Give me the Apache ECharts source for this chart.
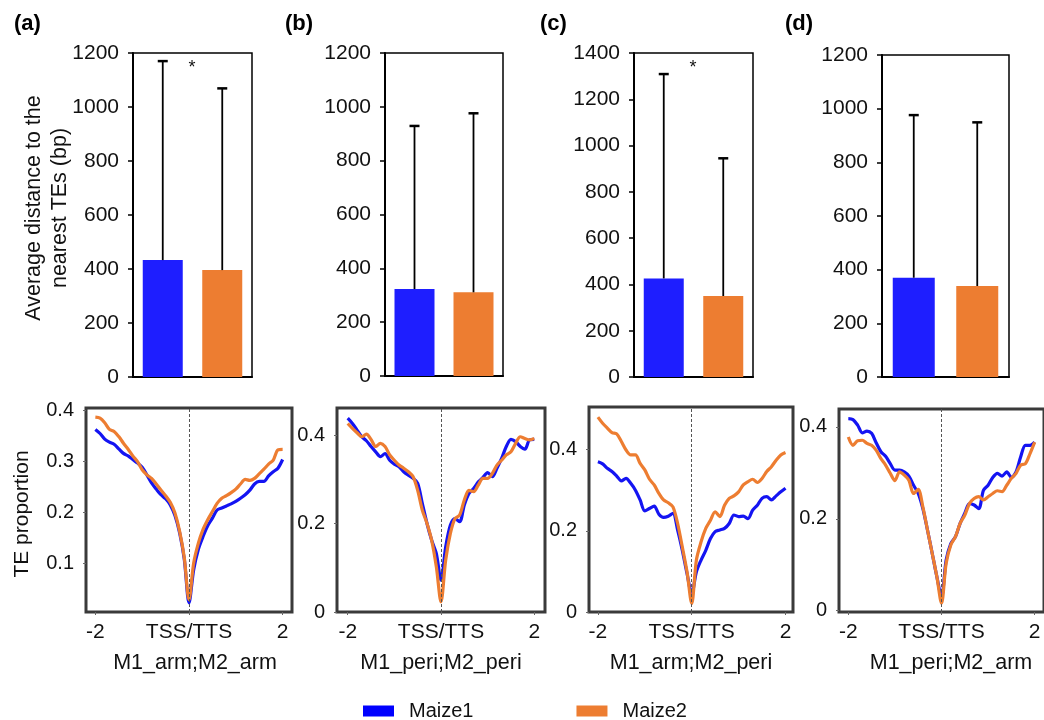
<!DOCTYPE html>
<html>
<head>
<meta charset="utf-8">
<script src="https://cdn.jsdelivr.net/npm/echarts@6/dist/echarts.min.js"></script>
<style>
html,body{margin:0;padding:0;background:#fff;}
#chart{width:1044px;height:720px;}
</style>
</head>
<body>
<div id="chart"></div>
<script>
// ---------- data ----------
const panelLabels = ['(a)', '(b)', '(c)', '(d)'];
const groupNames = ['Maize1', 'Maize2'];
const barCategories = ['Maize1', 'Maize2'];
const meanMaize1 = [433, 323, 426, 370];
const meanMaize2 = [396, 311, 350, 339];
const errTopMaize1 = [1170, 929, 1309, 976];
const errTopMaize2 = [1069, 976, 945, 949];
const barAxisMax = [1200, 1200, 1400, 1200];
const barAxisInterval = [200, 200, 200, 200];
const sigMarks = ['*', '', '*', ''];

const profileX = [-2.0,-1.9,-1.8,-1.7,-1.6,-1.5,-1.4,-1.3,-1.2,-1.1,-1.0,-0.9,-0.8,-0.7,-0.6,-0.5,-0.4,-0.3,-0.2,-0.1,
  0.0,0.1,0.2,0.3,0.4,0.5,0.6,0.7,0.8,0.9,1.0,1.1,1.2,1.3,1.4,1.5,1.6,1.7,1.8,1.9,2.0];
const xTickValues = [-2, 0, 2];
const xTickLabels = ['-2', 'TSS/TTS', '2'];
const profileNames = ['M1_arm;M2_arm', 'M1_peri;M2_peri', 'M1_arm;M2_peri', 'M1_peri;M2_arm'];

const aMaize1 = [.362,.354,.343,.337,.333,.324,.315,.310,.303,.296,.288,.273,.257,.245,.234,.226,.214,.193,.159,.107,
  .022,.087,.127,.152,.173,.188,.204,.208,.212,.216,.221,.227,.234,.243,.255,.260,.260,.271,.279,.286,.303];
const aMaize2 = [.386,.384,.375,.362,.358,.348,.335,.323,.310,.299,.283,.273,.266,.255,.243,.232,.219,.198,.162,.110,
  .028,.100,.139,.166,.185,.201,.217,.227,.232,.238,.245,.255,.264,.262,.266,.275,.284,.294,.302,.322,.323];
const bMaize1 = [.438,.426,.411,.396,.387,.374,.362,.351,.358,.343,.334,.328,.317,.309,.302,.291,.245,.200,.162,.132,
  .072,.147,.196,.211,.204,.242,.268,.279,.294,.304,.315,.306,.325,.347,.374,.390,.385,.374,.368,.389,.390];
const bMaize2 = [.426,.415,.405,.396,.402,.390,.374,.381,.374,.355,.343,.332,.325,.317,.306,.275,.230,.200,.162,.102,
  .023,.117,.177,.211,.219,.253,.275,.272,.287,.302,.302,.313,.332,.343,.355,.362,.381,.396,.392,.389,.392];
const cMaize1 = [.370,.365,.354,.346,.335,.323,.329,.317,.300,.276,.249,.255,.261,.241,.233,.236,.243,.202,.152,.095,
  .045,.099,.128,.152,.181,.198,.202,.206,.218,.239,.235,.236,.230,.251,.263,.280,.284,.276,.286,.296,.305];
const cMaize2 = [.480,.465,.453,.442,.439,.420,.399,.387,.387,.366,.350,.327,.313,.292,.276,.269,.259,.218,.160,.099,
  .021,.128,.173,.206,.226,.247,.235,.263,.280,.286,.296,.313,.321,.327,.319,.329,.346,.358,.374,.387,.393];
const dMaize1 = [.418,.416,.404,.387,.391,.386,.365,.346,.336,.320,.306,.306,.302,.293,.273,.255,.222,.175,.125,.074,
  .030,.110,.146,.161,.190,.212,.233,.230,.222,.262,.273,.290,.299,.293,.302,.290,.302,.335,.360,.360,.367];
const dMaize2 = [.378,.360,.370,.371,.364,.360,.349,.331,.317,.299,.283,.302,.295,.284,.255,.264,.226,.175,.125,.074,
  .016,.103,.143,.161,.190,.208,.233,.244,.248,.241,.248,.255,.261,.259,.273,.288,.299,.317,.320,.342,.367];
const profileMaize1 = [aMaize1, bMaize1, cMaize1, dMaize1];
const profileMaize2 = [aMaize2, bMaize2, cMaize2, dMaize2];

const profileYMin = [0.004, 0, 0, -0.003];
const profileYMax = [0.404, 0.461, 0.505, 0.439];
const profileYTicks = [[0.1, 0.2, 0.3, 0.4], [0, 0.2, 0.4], [0, 0.2, 0.4], [0, 0.2, 0.4]];
const profileXMin = [-2.2, -2.23, -2.19, -2.2];
const profileXMax = [2.2, 2.23, 2.16, 2.2];

// ---------- layout ----------
const barGrids = [
  {left: 133, top: 53, width: 119, height: 324},
  {left: 385, top: 53, width: 118, height: 323},
  {left: 634, top: 53, width: 119, height: 324},
  {left: 882, top: 55, width: 127, height: 322}
];
const barWidths = [40, 40, 40, 42];
const lineGrids = [
  {left: 86, top: 408, width: 206, height: 204},
  {left: 337, top: 408, width: 208, height: 204},
  {left: 589, top: 407, width: 204, height: 205},
  {left: 839, top: 409, width: 207, height: 203}
];
const xNameShift = [12, 0, 0, 19];
const labelPos = [[14, 25], [285, 25], [540, 25], [785, 25]];

const BLUE = '#1E1EFF', ORANGE = '#ED7D31';
const LBLUE = '#1414F2';
const FONT = 'Liberation Sans, Arial, sans-serif';

const grid = [], xAxis = [], yAxis = [], series = [], graphic = [];

for (let i = 0; i < 4; i++) {
  const g = barGrids[i];
  grid.push(Object.assign({show: true, borderColor: '#000', borderWidth: 1.5, containLabel: false}, g));
  xAxis.push({type: 'category', gridIndex: i, data: barCategories,
    axisLine: {show: true, onZero: false, lineStyle: {color: '#000', width: 2}},
    axisTick: {show: false}, axisLabel: {show: false}});
  yAxis.push({type: 'value', gridIndex: i, min: 0, max: barAxisMax[i], interval: barAxisInterval[i],
    axisLine: {show: true, onZero: false, lineStyle: {color: '#000', width: 2}},
    axisTick: {show: true, length: 5, lineStyle: {color: '#000', width: 1.5}},
    splitLine: {show: false},
    axisLabel: {fontFamily: FONT, fontSize: 21, color: '#111', margin: 14, formatter: function (v) { return String(v); }},
    name: i === 0 ? 'Average distance to the\nnearest TEs (bp)' : '',
    nameLocation: 'middle', nameGap: 60, nameMoveOverlap: false,
    nameTextStyle: {fontFamily: FONT, fontSize: 21.5, color: '#111', lineHeight: 26, padding: [0, 0, 0, 14]}
  });
  series.push({type: 'bar', name: groupNames[0], xAxisIndex: i, yAxisIndex: i, barWidth: barWidths[i],
    itemStyle: {color: BLUE}, silent: true,
    data: [meanMaize1[i], null]});
  series.push({type: 'bar', name: groupNames[1], xAxisIndex: i, yAxisIndex: i, barWidth: barWidths[i],
    barGap: '-100%', itemStyle: {color: ORANGE}, silent: true,
    data: [null, meanMaize2[i]]});
  series.push({type: 'custom', xAxisIndex: i, yAxisIndex: i, silent: true, z: 5,
    data: [[0, meanMaize1[i], errTopMaize1[i]], [1, meanMaize2[i], errTopMaize2[i]]],
    renderItem: function (params, api) {
      const p0 = api.coord([api.value(0), api.value(1)]);
      const p1 = api.coord([api.value(0), api.value(2)]);
      return {type: 'group', children: [
        {type: 'line', shape: {x1: p0[0], y1: p0[1], x2: p1[0], y2: p1[1]}, style: {stroke: '#000', lineWidth: 1.8}},
        {type: 'line', shape: {x1: p1[0] - 5, y1: p1[1], x2: p1[0] + 5, y2: p1[1]}, style: {stroke: '#000', lineWidth: 2.5}}
      ]};
    }
  });
  if (sigMarks[i]) {
    graphic.push({type: 'text', left: g.left + g.width / 2 - 4, top: g.top + 6,
      style: {text: sigMarks[i], font: '18px ' + FONT, fill: '#111'}});
  }
  graphic.push({type: 'text', left: labelPos[i][0], top: labelPos[i][1] - 12,
    style: {text: panelLabels[i], font: 'bold 22px ' + FONT, fill: '#000'}});
}

for (let i = 0; i < 4; i++) {
  const gi = 4 + i;
  grid.push(Object.assign({show: true, borderColor: '#3a3a3a', borderWidth: 3}, lineGrids[i]));
  xAxis.push({type: 'value', gridIndex: gi, min: profileXMin[i], max: profileXMax[i],
    axisLine: {show: false, onZero: false}, splitLine: {show: false},
    axisTick: {show: true, customValues: xTickValues, length: 3, lineStyle: {color: '#666'}},
    axisLabel: {customValues: xTickValues, fontFamily: FONT, fontSize: 21, color: '#111', margin: 10,
      formatter: function (v) { const k = xTickValues.indexOf(v); return k >= 0 ? xTickLabels[k] : ''; }},
    name: profileNames[i], nameLocation: 'middle', nameGap: 40,
    nameTextStyle: {fontFamily: FONT, fontSize: 21.5, color: '#111', padding: [0, 0, 0, xNameShift[i]]}
  });
  yAxis.push({type: 'value', gridIndex: gi, min: profileYMin[i], max: profileYMax[i],
    axisLine: {show: false, onZero: false}, splitLine: {show: false},
    axisTick: {show: true, customValues: profileYTicks[i], length: 3, lineStyle: {color: '#666'}},
    axisLabel: {customValues: profileYTicks[i], fontFamily: FONT, fontSize: 20, color: '#111', margin: 12,
      formatter: function (v) { return String(Math.round(v * 10) / 10); }},
    name: i === 0 ? 'TE proportion' : '', nameLocation: 'middle', nameGap: 53,
    nameTextStyle: {fontFamily: FONT, fontSize: 21, color: '#111', padding: [0, 8, 0, 0]}
  });
  series.push({type: 'line', name: groupNames[0], xAxisIndex: gi, yAxisIndex: gi, showSymbol: false,
    smooth: 0.3, silent: true, lineStyle: {color: LBLUE, width: 3.2}, itemStyle: {color: BLUE},
    data: profileX.map((x, k) => [x, profileMaize1[i][k]]),
    markLine: {silent: true, symbol: 'none', label: {show: false},
      lineStyle: {type: [3, 2], color: '#555', width: 1}, data: [{xAxis: 0}]}
  });
  series.push({type: 'line', name: groupNames[1], xAxisIndex: gi, yAxisIndex: gi, showSymbol: false,
    smooth: 0.3, silent: true, lineStyle: {color: ORANGE, width: 3.2}, itemStyle: {color: ORANGE},
    data: profileX.map((x, k) => [x, profileMaize2[i][k]])
  });
}

const chart = echarts.init(document.getElementById('chart'), null, {renderer: 'canvas'});
chart.setOption({
  backgroundColor: '#fff',
  animation: false,
  textStyle: {fontFamily: FONT},
  legend: {
    left: 363, top: 701, padding: 0, icon: 'rect', itemWidth: 31, itemHeight: 11, itemGap: 103,
    selectedMode: false,
    textStyle: {fontFamily: FONT, fontSize: 20, color: '#111', padding: [0, 0, 0, 10]},
    data: [{name: groupNames[0], itemStyle: {color: '#0000FF'}}, {name: groupNames[1], itemStyle: {color: ORANGE}}]
  },
  grid: grid, xAxis: xAxis, yAxis: yAxis, series: series, graphic: graphic
});
</script>
</body>
</html>
